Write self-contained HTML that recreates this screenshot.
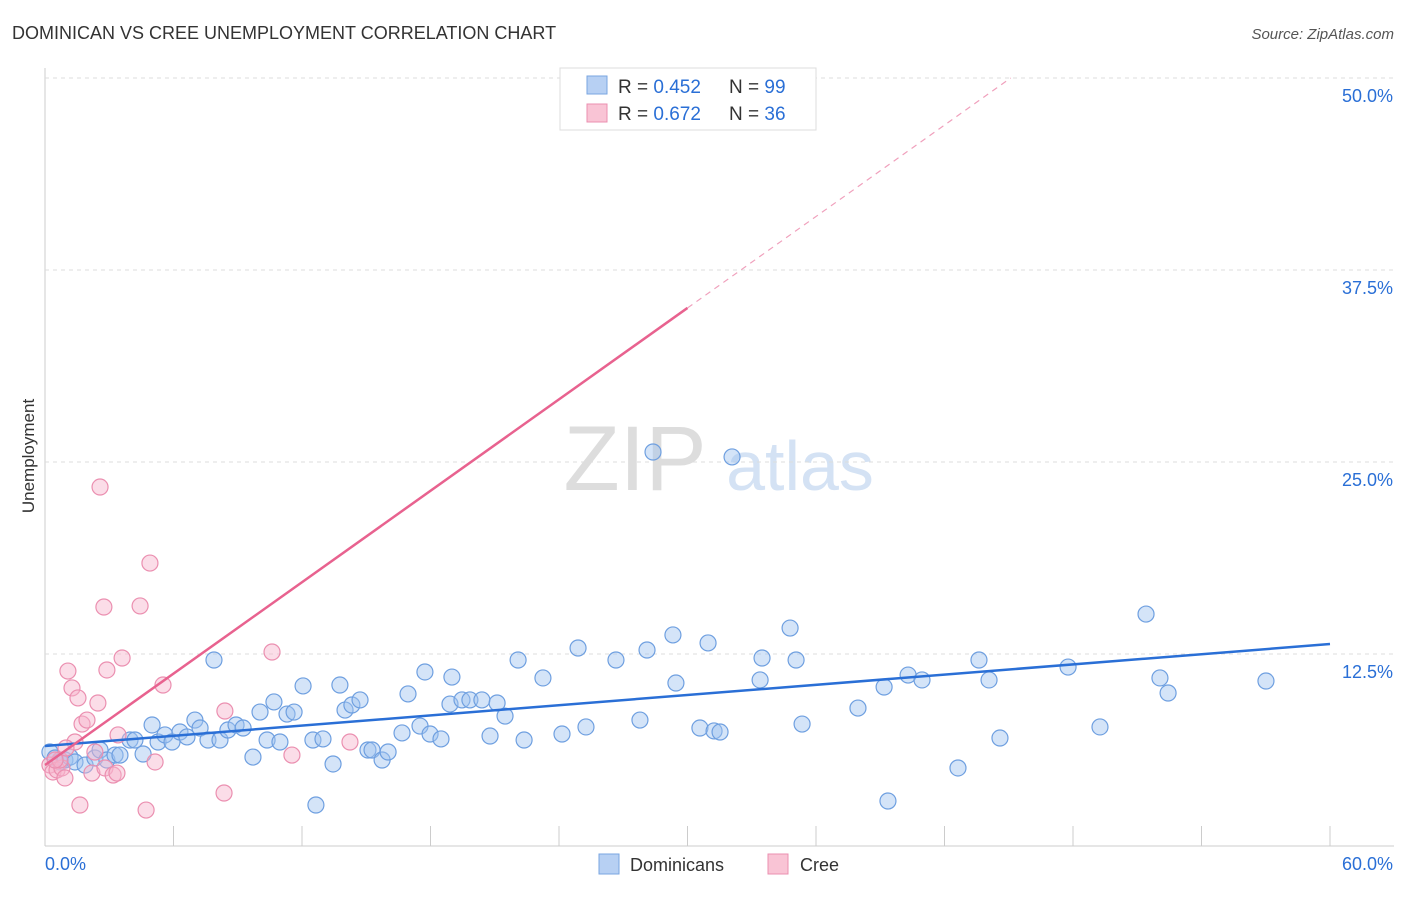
<!DOCTYPE html>
<html><head><meta charset="utf-8"><style>
body{margin:0;background:#fff;font-family:"Liberation Sans",sans-serif;}
svg text{font-family:"Liberation Sans",sans-serif;}
</style></head><body>
<svg id="chart" width="1406" height="892">
<text x="12" y="39" font-size="18" fill="#333">DOMINICAN VS CREE UNEMPLOYMENT CORRELATION CHART</text>
<text x="1394" y="39" font-size="15" fill="#555" font-style="italic" text-anchor="end">Source: ZipAtlas.com</text>
<text x="34" y="456" font-size="17" fill="#333" text-anchor="middle" transform="rotate(-90 34 456)">Unemployment</text>
<g><text x="635" y="490" font-size="92" fill="#ddd" font-family="Liberation Serif" text-anchor="middle">ZIP</text><text x="800" y="490" font-size="70" fill="#d4e2f4" text-anchor="middle">atlas</text></g>
<g id="grid"></g><g id="marks"></g>
<g>
<rect x="560" y="68" width="256" height="62" fill="#fff" stroke="#ddd"/>
<rect x="587" y="76" width="20" height="18" fill="#b7d0f3" stroke="#7aa6e0"/>
<text x="618" y="93" font-size="19" fill="#333">R = <tspan fill="#2a6fd6">0.452</tspan></text>
<text x="729" y="93" font-size="19" fill="#333">N = <tspan fill="#2a6fd6">99</tspan></text>
<rect x="587" y="104" width="20" height="18" fill="#f9c4d5" stroke="#eb8fb0"/>
<text x="618" y="120" font-size="19" fill="#333">R = <tspan fill="#2a6fd6">0.672</tspan></text>
<text x="729" y="120" font-size="19" fill="#333">N = <tspan fill="#2a6fd6">36</tspan></text>
</g>
<g>
<rect x="599" y="854" width="20" height="20" fill="#b7d0f3" stroke="#7aa6e0"/>
<text x="630" y="871" font-size="18" fill="#333">Dominicans</text>
<rect x="768" y="854" width="20" height="20" fill="#f9c4d5" stroke="#eb8fb0"/>
<text x="800" y="871" font-size="18" fill="#333">Cree</text>
</g>
</svg>
<script>
const xTicks=[0,6,12,18,24,30,36,42,48,54,60];
const yTicks=[12.5,25,37.5,50];
const yTickLabels=["12.5%","25.0%","37.5%","50.0%"];
const blueX=[50,55,60,65,70,75,85,95,100,107,115,120,130,135,143,152,158,165,172,180,187,195,200,208,214,220,228,236,243,253,260,267,274,280,287,294,303,313,316,323,333,340,345,352,360,368,372,382,388,402,408,420,425,430,441,450,452,462,470,482,490,497,505,518,524,543,562,578,586,616,640,647,653,673,676,700,708,714,720,732,760,762,790,796,802,858,884,888,908,922,958,979,989,1000,1068,1100,1146,1160,1168,1266].map(p=>+((p-45)*60/1285).toFixed(2));
const blueY=[752,758,762,760,757,762,765,758,750,760,755,755,740,740,754,725,742,735,742,732,737,720,728,740,660,740,730,725,728,757,712,740,702,742,714,712,686,740,805,739,764,685,710,705,700,750,750,760,752,733,694,726,672,734,739,704,677,700,700,700,736,703,716,660,740,678,734,648,727,660,720,650,452,635,683,728,643,731,732,457,680,658,628,660,724,708,687,801,675,680,768,660,680,738,667,727,614,678,693,681].map(p=>+((846-p)*12.5/192).toFixed(2));
const pinkX=[50,53,57,62,65,68,72,75,78,82,87,92,95,98,100,104,105,107,113,117,118,122,140,150,155,163,146,225,224,272,292,350,80,60,55,66].map(p=>+((p-45)*60/1285).toFixed(2));
const pinkY=[765,772,770,768,778,671,688,742,698,724,720,773,752,703,487,607,768,670,775,773,735,658,606,563,762,685,810,711,793,652,755,742,805,760,760,748].map(p=>+((846-p)*12.5/192).toFixed(2));
const blueLine=[6.51,13.15];
const pinkLine=[5.27,35.03];
const X=v=>45+v/60*1285, Y=v=>846-v/50*768;
const NS="http://www.w3.org/2000/svg";
function mk(parent,tag,attrs){const e=document.createElementNS(NS,tag);for(const k in attrs)e.setAttribute(k,attrs[k]);document.getElementById(parent).appendChild(e);return e;}
const a=mk('grid','line',{x1:45,y1:68,x2:45,y2:846,stroke:'#ccc'});

const b=mk('grid','line',{x1:45,y1:846,x2:1394,y2:846,stroke:'#ccc'});

yTicks.forEach((t,i)=>{const g=mk('grid','line',{x1:45,y1:Y(t),x2:1394,y2:Y(t),stroke:'#ddd','stroke-dasharray':'4,4'});

const l=mk('grid','text',{x:1393,y:Y(t)+24,'font-size':18,fill:'#2a6fd6','text-anchor':'end'});l.textContent=yTickLabels[i];
});
xTicks.forEach((t,i)=>{if(i>0){const k=mk('grid','line',{x1:X(t),y1:826,x2:X(t),y2:846,stroke:'#ccc'});
}});
const x0=mk('grid','text',{x:45,y:870,'font-size':18,fill:'#2a6fd6'});x0.textContent='0.0%';

const x1=mk('grid','text',{x:1393,y:870,'font-size':18,fill:'#2a6fd6','text-anchor':'end'});x1.textContent='60.0%';

blueX.forEach((v,i)=>{const c=mk('marks','circle',{cx:X(v),cy:Y(blueY[i]),r:8,fill:'rgba(160,195,240,0.45)',stroke:'#6e9fe0','stroke-width':1.2});
});
pinkX.forEach((v,i)=>{const c=mk('marks','circle',{cx:X(v),cy:Y(pinkY[i]),r:8,fill:'rgba(247,180,203,0.45)',stroke:'#eb8fb0','stroke-width':1.2});
});
const bl=mk('marks','line',{x1:X(0),y1:Y(blueLine[0]),x2:X(60),y2:Y(blueLine[1]),stroke:'#2a6fd6','stroke-width':2.5});

const slope=(pinkLine[1]-pinkLine[0])/30;
const pl=mk('marks','line',{x1:X(0),y1:Y(pinkLine[0]),x2:X(30),y2:Y(pinkLine[1]),stroke:'#e8628f','stroke-width':2.5});

const xe=(50-pinkLine[0])/slope;
const pd=mk('marks','line',{x1:X(30),y1:Y(pinkLine[1]),x2:X(xe),y2:Y(50),stroke:'#f0a0bc','stroke-width':1.2,'stroke-dasharray':'6,5'});

</script>
</body></html>
